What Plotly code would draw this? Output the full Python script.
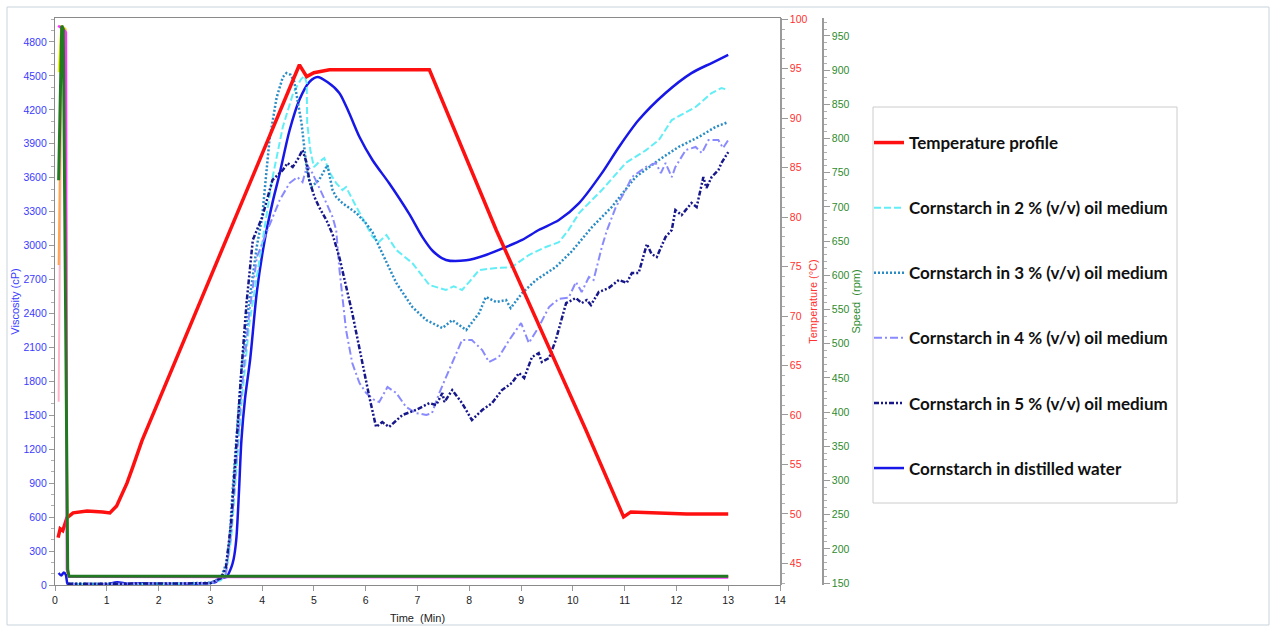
import plotly.graph_objects as go

# ---------------- data ----------------
t_temp = [0.06, 0.10, 0.15, 0.23, 0.35, 0.62, 0.92, 1.06, 1.19, 1.39, 1.50, 1.68, 4.72, 4.86, 5.00,
          5.30, 7.23, 8.52, 10.25, 10.98, 11.12, 11.50, 12.20, 13.00]
temp = [47.6, 48.5, 48.3, 49.6, 50.1, 50.3, 50.2, 50.1, 50.8, 53.1, 54.7, 57.4, 95.4, 94.2, 94.6,
        94.9, 94.9, 78.7, 58.5, 49.7, 50.2, 50.1, 50.0, 50.0]

t_water = [0.07, 0.12, 0.17, 0.21, 0.25, 0.5, 1.0, 1.2, 1.4, 1.6, 2.0, 2.5, 3.0, 3.1, 3.2, 3.31, 3.4,
           3.45, 3.5, 3.55, 3.6, 3.67, 3.77, 3.9, 4.05, 4.2, 4.34, 4.53, 4.72, 4.91, 5.07, 5.26, 5.49,
           5.68, 5.88, 6.13, 6.45, 6.84, 7.09, 7.3, 7.55, 7.94, 8.32, 8.71, 9.02, 9.34, 9.73, 10.12,
           10.56, 10.89, 11.27, 11.79, 12.29, 12.68, 13.0]
v_water = [106, 85, 110, 90, 5, 0, 5, 25, 10, 15, 10, 10, 18, 25, 60, 70, 150,
           230, 400, 800, 1280, 1650, 2000, 2600, 3050, 3380, 3640, 4020, 4290, 4446, 4490, 4446, 4350,
           4172, 3960, 3757, 3553, 3280, 3080, 2950, 2873, 2870, 2917, 2988, 3050, 3138, 3226, 3376,
           3641, 3872, 4110, 4349, 4525, 4614, 4685]

t_oil2 = [0.25, 1.0, 2.0, 3.0, 3.2, 3.3, 3.4, 3.5, 3.6, 3.75, 4.0, 4.2, 4.4, 4.6, 4.75, 4.82, 4.86,
          4.87, 4.93, 5.0, 5.1, 5.2, 5.3, 5.43, 5.55, 5.62, 5.78, 5.93, 6.13, 6.25, 6.4, 6.59, 6.9,
          7.23, 7.4, 7.55, 7.7, 7.86, 8.0, 8.19, 8.52, 8.82, 9.15, 9.48, 9.73, 9.92, 10.12, 10.56,
          11.02, 11.4, 11.66, 11.91, 12.37, 12.68, 12.87, 13.0]
v_oil2 = [10, 10, 8, 15, 40, 100, 400, 1000, 1600, 2300, 3000, 3600, 4050, 4350, 4470, 4500, 4437,
          4084, 3845, 3695, 3739, 3774, 3650, 3553, 3491, 3518, 3376, 3253, 3080, 3030, 3094, 2961, 2846,
          2652, 2630, 2608, 2640, 2608, 2680, 2784, 2802, 2810, 2917, 2988, 3030, 3140, 3288, 3491,
          3730, 3840, 3933, 4110, 4225, 4349, 4393, 4375]

t_oil3 = [0.25, 1.0, 2.0, 3.0, 3.2, 3.31, 3.37, 3.43, 3.5, 3.6, 3.75, 3.9, 4.0, 4.14, 4.28, 4.4,
          4.47, 4.55, 4.62, 4.76, 4.87, 4.95, 5.1, 5.26, 5.36, 5.43, 5.55, 5.82, 6.0, 6.13, 6.25, 6.4,
          6.59, 6.9, 7.17, 7.48, 7.67, 7.94, 8.19, 8.32, 8.52, 8.71, 8.8, 9.02, 9.29, 9.67, 9.98,
          10.37, 10.75, 11.21, 11.66, 12.04, 12.43, 12.75, 13.0]
v_oil3 = [10, 10, 10, 20, 60, 194, 398, 840, 1282, 1900, 2500, 3000, 3250, 3930, 4310, 4490,
          4525, 4510, 4450, 4084, 3641, 3518, 3580, 3712, 3491, 3430, 3376, 3288, 3200, 3120, 3000, 2850,
          2670, 2457, 2342, 2271, 2342, 2254, 2404, 2546, 2501, 2519, 2448, 2581, 2696, 2811, 2950,
          3164, 3341, 3606, 3757, 3872, 3960, 4048, 4092]

t_oil4 = [0.25, 1.0, 2.0, 3.0, 3.2, 3.3, 3.4, 3.5, 3.6, 3.75, 3.9, 4.08, 4.34, 4.53, 4.68, 4.78,
          4.87, 4.97, 5.1, 5.24, 5.36, 5.43, 5.49, 5.62, 5.74, 5.88, 6.01, 6.15, 6.26, 6.42, 6.59,
          6.78, 6.97, 7.17, 7.28, 7.42, 7.61, 7.86, 8.05, 8.25, 8.38, 8.57, 8.77, 9.0, 9.15, 9.34,
          9.54, 9.73, 9.92, 10.06, 10.17, 10.31, 10.4, 10.56, 10.66, 10.83, 11.02, 11.14, 11.41,
          11.6, 11.7, 11.79, 11.91, 11.98, 12.18, 12.37, 12.49, 12.62, 12.81, 12.9, 13.0]
v_oil4 = [10, 10, 10, 15, 50, 100, 450, 1100, 1700, 2400, 2900, 3111, 3403, 3553, 3606, 3562,
          3712, 3641, 3518, 3376, 3253, 3138, 2800, 2254, 1962, 1785, 1697, 1640, 1617, 1750, 1697,
          1573, 1520, 1503, 1520, 1697, 1900, 2165, 2165, 2077, 1971, 2015, 2165, 2316, 2139, 2280,
          2457, 2530, 2540, 2678, 2590, 2723, 2696, 2988, 3138, 3341, 3491, 3606, 3695,
          3730, 3642, 3730, 3606, 3695, 3845, 3872, 3818, 3933, 3933, 3863, 3933]

t_oil5 = [0.25, 1.0, 2.0, 3.0, 3.2, 3.3, 3.4, 3.5, 3.6, 3.7, 3.82, 4.0, 4.2, 4.4, 4.49, 4.59, 4.68,
          4.78, 4.86, 4.91, 5.01, 5.1, 5.24, 5.36, 5.49, 5.74, 5.93, 6.07, 6.2, 6.32, 6.45, 6.71,
          6.97, 7.23, 7.36, 7.48, 7.52, 7.67, 7.86, 8.05, 8.25, 8.44, 8.63, 8.82, 8.96, 9.06, 9.21,
          9.34, 9.4, 9.54, 9.67, 9.87, 10.06, 10.17, 10.27, 10.35, 10.5, 10.69, 10.89, 11.04, 11.14,
          11.27, 11.43, 11.52, 11.62, 11.79, 11.91, 11.98, 12.1, 12.29, 12.39, 12.52, 12.58, 12.68,
          12.81, 12.87, 13.0]
v_oil5 = [10, 10, 10, 15, 60, 150, 550, 1250, 1900, 2500, 3050, 3250, 3580, 3668, 3730, 3695, 3757,
          3845, 3730, 3580, 3430, 3341, 3226, 3100, 2899, 2404, 1962, 1662, 1397, 1440, 1397, 1503,
          1547, 1608, 1591, 1697, 1617, 1723, 1608, 1458, 1547, 1608, 1723, 1785, 1874, 1830, 2015,
          2050, 1971, 2006, 2165, 2492, 2537, 2492, 2519, 2475, 2590, 2625, 2696, 2670, 2758,
          2758, 3014, 2925, 2899, 3076, 3138, 3315, 3270, 3376, 3341, 3606, 3509, 3606,
          3668, 3730, 3827]

# speed traces (rpm)
t_spd_pink = [0.07, 0.09, 0.13, 0.20, 0.24, 0.27, 13.0]
s_spd_pink = [415, 640, 965, 960, 165, 160, 159]
t_spd_orange = [0.07, 0.09, 0.13, 0.20, 0.24, 0.27, 13.0]
s_spd_orange = [615, 760, 965, 960, 165, 160, 160]
t_spd_yellow = [0.07, 0.12, 0.20, 0.24, 0.27, 13.0]
s_spd_yellow = [897, 965, 960, 165, 160, 160]
t_spd_magenta = [0.06, 0.19, 0.21, 0.23, 0.27, 13.0]
s_spd_magenta = [965, 958, 955, 170, 159, 158]
t_spd_green = [0.07, 0.13, 0.16, 0.245, 0.27, 13.0]
s_spd_green = [739, 965, 960, 170, 160, 160]

x_ticks = list(range(0, 15))

# ---------------- figure ----------------
W, H = 1276, 628
ML, MR, MT, MB = 55, 96, 18, 43
PW = W - ML - MR
PH = H - MT - MB


def px2x(px):
    return (px - ML) / PW


def py2y(py):
    return (H - MB - py) / PH


fig = go.Figure()

visc_series = [
    ("Cornstarch in distilled water", t_water, v_water, "#1717e8", "solid", 2.5, 6, "spline"),
    ("Cornstarch in 2 % (v/v) oil medium", t_oil2, v_oil2, "#62eef6", "7px,3px", 2, 2, "linear"),
    ("Cornstarch in 3 % (v/v) oil medium", t_oil3, v_oil3, "#2a8cc6", "2px,2px", 2.5, 3, "linear"),
    ("Cornstarch in 4 % (v/v) oil medium", t_oil4, v_oil4, "#8a8aff", "8px,3px,2px,3px", 2, 4, "linear"),
    ("Cornstarch in 5 % (v/v) oil medium", t_oil5, v_oil5, "#17178c", "5px,2px,2px,2px,2px,2px", 2.5, 5, "linear"),
]
for name, tx, vy, col, dash, w, rank, shape in visc_series:
    line = dict(color=col, dash=dash, width=w, shape=shape)
    if shape == "spline":
        line["smoothing"] = 0.8
    fig.add_trace(go.Scatter(x=tx, y=vy, mode="lines", name=name, yaxis="y",
                             line=line, legendrank=rank, legendgroup=name))

fig.add_trace(go.Scatter(x=t_temp, y=temp, mode="lines", name="Temperature profile", yaxis="y2",
                         line=dict(color="#ff1010", width=3.5), legendrank=1,
                         legendgroup="temp"))

for tx, sy, col, w in [(t_spd_pink, s_spd_pink, "#ffb3c6", 2),
                       (t_spd_orange, s_spd_orange, "#ffa64d", 2),
                       (t_spd_yellow, s_spd_yellow, "#f2f200", 2),
                       (t_spd_magenta, s_spd_magenta, "#ff33ff", 2.5),
                       (t_spd_green, s_spd_green, "#217a21", 3)]:
    fig.add_trace(go.Scatter(x=tx, y=sy, mode="lines", yaxis="y3", showlegend=False,
                             line=dict(color=col, width=w), hoverinfo="skip"))

tick_font = "Liberation Sans"
xdom_end = (780 - ML) / PW

fig.update_layout(
    width=W, height=H,
    margin=dict(l=ML, r=MR, t=MT, b=MB, pad=0, autoexpand=False),
    paper_bgcolor="white", plot_bgcolor="white",
    font=dict(family=tick_font, size=11, color="#222"),
    xaxis=dict(domain=[0, xdom_end], range=[0, 14], tickvals=x_ticks, showgrid=False,
               zeroline=False, showline=True, linecolor="#8a8a8a", linewidth=1.2, mirror=True,
               ticks="outside", ticklen=5, tickcolor="#9a9a9a", automargin=False,
               tickfont=dict(family=tick_font, size=10.5, color="#222"),
               title=dict(text="Time  (Min)", font=dict(family=tick_font, size=11, color="#222"),
                          standoff=9)),
    yaxis=dict(range=[0, 5012], tick0=0, dtick=300, showgrid=False, zeroline=False,
               showline=True, linecolor="#8a8a8a", linewidth=1.2, mirror=True,
               ticks="outside", ticklen=5, tickcolor="#9a9a9a", automargin=False,
               minor=dict(dtick=100, ticklen=3, tickcolor="#b0b0b0", ticks="outside"),
               tickfont=dict(family=tick_font, size=10.5, color="#3b3bff"),
               title=dict(text="Viscosity (cP)", font=dict(family=tick_font, size=11, color="#3b3bff"),
                          standoff=1)),
    yaxis2=dict(overlaying="y", side="right", anchor="x", range=[42.81, 100.13], tick0=45, dtick=5,
                showgrid=False, zeroline=False, showline=True, linecolor="#9a9a9a", linewidth=1.5,
                ticks="outside", ticklen=6, tickcolor="#9a9a9a", automargin=False,
                minor=dict(dtick=1, ticklen=3, tickcolor="#b0b0b0", ticks="outside"),
                tickfont=dict(family=tick_font, size=10.5, color="#ff3030"),
                title=dict(text="Temperature (°C)", font=dict(family=tick_font, size=11, color="#ff3030"),
                           standoff=3)),
    yaxis3=dict(overlaying="y", side="right", anchor="free", position=px2x(823),
                range=[147.1, 976.3], tick0=150, dtick=50, showgrid=False, zeroline=False,
                showline=True, linecolor="#9a9a9a", linewidth=1.5, automargin=False,
                ticks="outside", ticklen=6, tickcolor="#9a9a9a",
                minor=dict(dtick=10, ticklen=3, tickcolor="#b0b0b0", ticks="outside"),
                tickfont=dict(family=tick_font, size=10.5, color="#2e8b2e"),
                title=dict(text="Speed  (rpm)", font=dict(family=tick_font, size=11, color="#2e8b2e"),
                           standoff=3)),
    legend=dict(x=px2x(869), y=py2y(125), xanchor="left", yanchor="top",
                bgcolor="rgba(0,0,0,0)", borderwidth=0, tracegroupgap=40,
                font=dict(family="Lato", size=17, color="#111", weight="bold"),
                itemwidth=30),
    showlegend=True,
    shapes=[
        dict(type="rect", xref="paper", yref="paper",
             x0=px2x(7), x1=px2x(1269), y0=py2y(625), y1=py2y(7),
             line=dict(color="#c9d3dd", width=1), fillcolor="rgba(0,0,0,0)", layer="below"),
        dict(type="rect", xref="paper", yref="paper",
             x0=px2x(873), x1=px2x(1177), y0=py2y(503), y1=py2y(107),
             line=dict(color="#cccccc", width=1), fillcolor="rgba(0,0,0,0)", layer="below"),
    ],
)

fig.write_html("out.html")
